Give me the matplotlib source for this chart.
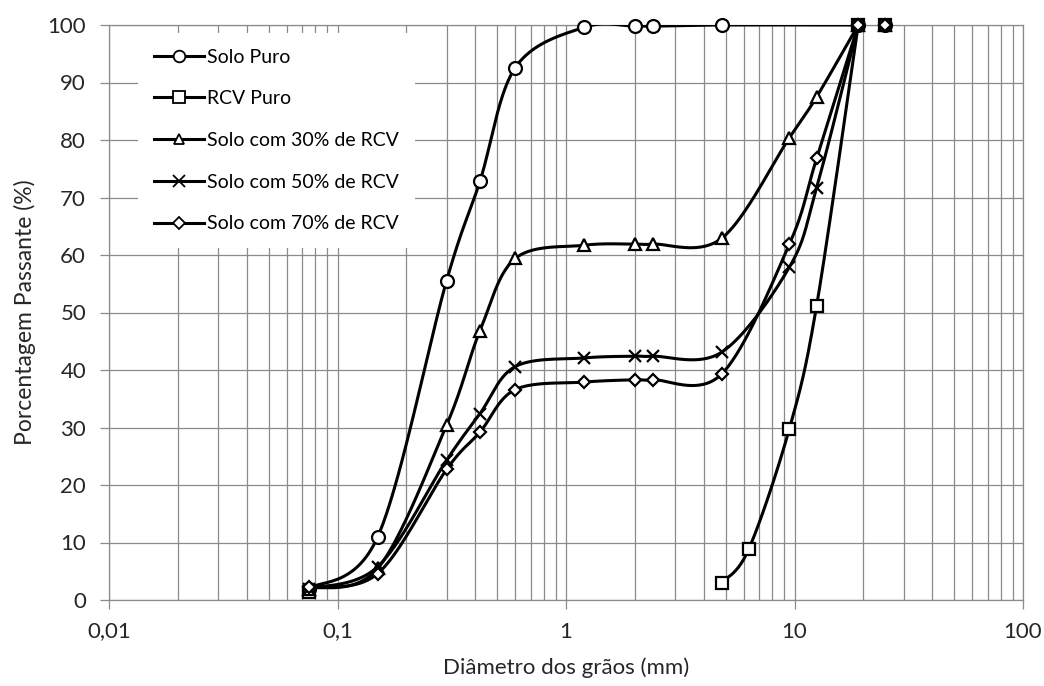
import numpy as np
import matplotlib
matplotlib.use("Agg")
import matplotlib.pyplot as plt
from matplotlib.lines import Line2D

plt.rcParams['font.family'] = ['Lato', 'DejaVu Sans']

# ---------------- data ----------------
sieves = [0.075, 0.15, 0.3, 0.42, 0.6, 1.2, 2.0, 2.4, 4.8, 19.0]
solo_puro = [2.0, 11.0, 55.5, 72.8, 92.6, 99.6, 99.8, 99.8, 100.0, 100.0]

rcv_x = [4.8, 6.3, 9.5, 12.5, 19.0]
rcv_puro = [3.0, 8.8, 29.8, 51.2, 100.0]

mix_x = [0.075, 0.15, 0.3, 0.42, 0.6, 1.2, 2.0, 2.4, 4.8, 9.5, 12.5, 19.0]
solo_30 = [2.0, 5.5, 30.4, 46.8, 59.4, 61.7, 61.9, 61.9, 62.9, 80.4, 87.5, 100.0]
solo_50 = [2.0, 5.8, 24.3, 32.4, 40.6, 42.1, 42.4, 42.4, 43.1, 57.9, 71.7, 100.0]
solo_70 = [2.3, 4.6, 22.7, 29.2, 36.6, 37.9, 38.3, 38.3, 39.3, 61.9, 76.8, 100.0]

# isolated points (not joined to the curves)
rcv_iso_x = [0.075, 25.0]
rcv_iso_y = [1.4, 100.0]
extra_x = [25.0]
solo_puro_extra = [100.0]
solo_30_extra = [100.0]
solo_50_extra = [100.0]
solo_70_extra = [100.0]

labels = ['Solo Puro', 'RCV Puro', 'Solo com 30% de RCV',
          'Solo com 50% de RCV', 'Solo com 70% de RCV']
xtick_vals = [0.01, 0.1, 1, 10, 100]
xtick_labels = ['0,01', '0,1', '1', '10', '100']
ytick_vals = list(range(0, 101, 10))


# ---------------- smoothing (Excel-like bezier) ----------------
SX, SY = 228.5, 5.75


def smooth(xs, ys, n=40):
    u = np.log10(np.asarray(xs, float)) * SX
    v = np.asarray(ys, float) * SY
    P = np.column_stack([u, v])
    m = len(P)
    out = [P[0]]
    t = np.linspace(0, 1, n)[1:]
    for i in range(m - 1):
        p0 = P[i - 1] if i > 0 else P[i]
        p1 = P[i]
        p2 = P[i + 1]
        p3 = P[i + 2] if i + 2 < m else P[i + 1]
        c1 = p1 + (p2 - p0) / 6.0
        c2 = p2 - (p3 - p1) / 6.0
        seg = ((1 - t) ** 3)[:, None] * p1 + (3 * (1 - t) ** 2 * t)[:, None] * c1 \
            + (3 * (1 - t) * t ** 2)[:, None] * c2 + (t ** 3)[:, None] * p2
        out.extend(seg)
    out = np.array(out)
    return 10 ** (out[:, 0] / SX), out[:, 1] / SY


# ---------------- figure ----------------
fig = plt.figure(figsize=(10.44, 6.86), dpi=100)
ax = fig.add_axes([109 / 1044, 1 - 600 / 686, (1023 - 109) / 1044, (600 - 25) / 686])
ax.set_xscale('log')
ax.set_xlim(0.01, 100)
ax.set_ylim(0, 100)

gridc = '#8a8a8a'
txtc = '#262626'
ax.grid(True, which='both', axis='x', color=gridc, lw=0.9)
ax.grid(True, which='major', axis='y', color=gridc, lw=0.9)
ax.set_axisbelow(True)
for s in ax.spines.values():
    s.set_color(gridc)
    s.set_linewidth(0.9)

lw = 2.2
mew = 1.6
series = [
    (sieves, solo_puro, extra_x, solo_puro_extra, 'o', 9.3),
    (rcv_x, rcv_puro, rcv_iso_x, rcv_iso_y, 's', 9.0),
    (mix_x, solo_30, extra_x, solo_30_extra, '^', 8.5),
    (mix_x, solo_50, extra_x, solo_50_extra, 'x', 9.0),
    (mix_x, solo_70, extra_x, solo_70_extra, 'D', 6.5),
]
handles = []
for (xs, ys, ex, ey, mk, ms), lab in zip(series, labels):
    sx, sy = smooth(xs, ys)
    ax.plot(sx, sy, color='black', lw=lw, solid_capstyle='round', zorder=3)
    ax.plot(xs, ys, ls='none', marker=mk, ms=ms, mfc='white', mec='black',
            mew=mew, zorder=4, clip_on=False)
    ax.plot(ex, ey, ls='none', marker=mk, ms=ms, mfc='white', mec='black',
            mew=mew, zorder=4, clip_on=False)
    handles.append(Line2D([], [], color='black', lw=lw, marker=mk, ms=ms * 0.9,
                          mfc='white', mec='black', mew=1.3))

ax.set_xticks(xtick_vals)
ax.set_xticklabels(xtick_labels)
ax.set_yticks(ytick_vals)
ax.tick_params(axis='both', which='major', labelsize=16, colors=gridc,
               labelcolor=txtc, length=6.5, width=0.9)
ax.tick_params(axis='x', which='major', pad=9)
ax.tick_params(axis='y', which='major', pad=10)
ax.tick_params(axis='x', which='minor', length=0)

ax.set_xlabel('Diâmetro dos grãos (mm)', fontsize=16, color=txtc)
ax.xaxis.set_label_coords(0.5, -0.100)
ax.set_ylabel('Porcentagem Passante (%)', fontsize=16.5, color=txtc)
ax.yaxis.set_label_coords(-0.080, 0.5)

leg = ax.legend(handles, labels, loc='upper left', bbox_to_anchor=(0.032, 0.986),
                fontsize=14, handlelength=2.6, handletextpad=0.15,
                labelspacing=1.27, borderpad=0.8, frameon=True, fancybox=False,
                borderaxespad=0.0)
leg.get_frame().set_facecolor('white')
leg.get_frame().set_edgecolor('none')
leg.get_frame().set_alpha(1.0)
leg.set_zorder(5)

fig.savefig('out.png', dpi=100)
